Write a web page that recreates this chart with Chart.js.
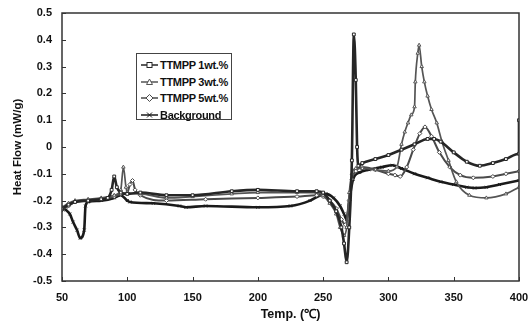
<!DOCTYPE html>
<html>
<head>
<meta charset="utf-8">
<script src="https://cdn.jsdelivr.net/npm/chart.js"></script>
<style>
  *{margin:0;padding:0;box-sizing:border-box}
  body{background:#fff;font-family:'Liberation Sans',Arial,sans-serif}
  .wrap{position:relative;width:530px;height:322px}
  .legend{position:absolute;left:136px;top:53px;width:96px;height:67px;border:1px solid #444;background:#fff;padding:3px 0 0 4px}
  .legend .row{display:flex;align-items:center;height:16.5px;font-size:11px;font-weight:bold;color:#111;white-space:nowrap;letter-spacing:-0.3px}
  .legend svg{margin-right:2px;flex:none}
</style>
</head>
<body>
<div class="wrap">
  <canvas id="c"></canvas>
  <div class="legend" id="legend"></div>
</div>
<script>
// TTMPP 1wt.% (melting dip + sharp spike, broad hump)
const temps1 = [50,55,60,70,80,85,88,90,92,95,100,110,130,150,180,200,230,245,250,255,260,264,266,268,270,272,273.5,275,276,277,280,290,300,310,320,330,335,340,350,360,370,380,390,400,400];
const flow1  = [-0.23,-0.215,-0.205,-0.2,-0.195,-0.19,-0.16,-0.11,-0.15,-0.17,-0.175,-0.17,-0.18,-0.18,-0.165,-0.16,-0.165,-0.165,-0.17,-0.2,-0.24,-0.3,-0.36,-0.43,-0.3,-0.05,0.42,0.25,0.0,-0.07,-0.06,-0.045,-0.03,-0.01,0.01,0.03,0.03,0.02,-0.02,-0.055,-0.07,-0.06,-0.045,-0.025,0.1];

// TTMPP 3wt.% (big peak near 323)
const temps2 = [50,55,60,70,80,90,95,97,99,100,110,130,150,180,200,230,245,250,255,260,263,266,268,270,272,275,280,290,300,306.5,310,312.5,315,317.5,320,320.6,322.5,323.5,325.5,327.5,330,333,337,341,346,352,362,375,390,400];
const flow2  = [-0.225,-0.21,-0.2,-0.195,-0.19,-0.18,-0.16,-0.075,-0.15,-0.17,-0.175,-0.19,-0.185,-0.175,-0.17,-0.17,-0.17,-0.18,-0.21,-0.25,-0.3,-0.33,-0.3,-0.17,-0.1,-0.08,-0.08,-0.085,-0.09,-0.074,0.01,0.056,0.09,0.12,0.15,0.243,0.35,0.38,0.3,0.243,0.19,0.14,0.09,0.02,-0.05,-0.13,-0.18,-0.19,-0.175,-0.15];

// TTMPP 5wt.% (small peak near 328)
const temps3 = [50,55,60,70,80,90,95,100,102,104,106,110,130,160,200,230,245,250,255,260,264,267,270,272,275,280,290,300,305,309,314,319,324,328,333,339,347,355,365,380,390,400];
const flow3  = [-0.235,-0.22,-0.205,-0.2,-0.195,-0.185,-0.175,-0.17,-0.14,-0.125,-0.16,-0.18,-0.2,-0.195,-0.19,-0.185,-0.18,-0.185,-0.2,-0.23,-0.27,-0.29,-0.2,-0.12,-0.09,-0.075,-0.085,-0.1,-0.105,-0.11,-0.075,-0.01,0.05,0.075,0.04,-0.02,-0.075,-0.105,-0.115,-0.11,-0.1,-0.09];

// Background
const temps4 = [50,53,56,58.5,61.5,64,67,68,70,80,90,95,100,102,120,140,145,160,200,225,240,248,252,258,263,266,268,270,273,278,285,295,303,310,320,330,340,350,360,366,375,385,400];
const flow4  = [-0.225,-0.235,-0.25,-0.28,-0.31,-0.34,-0.31,-0.22,-0.205,-0.2,-0.19,-0.18,-0.2,-0.205,-0.21,-0.22,-0.225,-0.22,-0.225,-0.22,-0.2,-0.18,-0.175,-0.19,-0.22,-0.25,-0.27,-0.2,-0.12,-0.095,-0.085,-0.075,-0.068,-0.08,-0.1,-0.115,-0.13,-0.14,-0.15,-0.153,-0.15,-0.14,-0.125];

const labels = ["TTMPP 1wt.%", "TTMPP 3wt.%", "TTMPP 5wt.%", "Background"];
const xTicks = [50,100,150,200,250,300,350,400];
const yTicks = [-0.5,-0.4,-0.3,-0.2,-0.1,0,0.1,0.2,0.3,0.4,0.5];

const pts = (t, v) => t.map((x, i) => ({ x, y: v[i] }));
const series = [
  { label: labels[0], data: pts(temps1, flow1), color: "#262626", width: 2.6, style: "rect" },
  { label: labels[1], data: pts(temps2, flow2), color: "#555", width: 1.7, style: "triangle" },
  { label: labels[2], data: pts(temps3, flow3), color: "#4a4a4a", width: 2, style: "rectRot" },
  { label: labels[3], data: pts(temps4, flow4), color: "#1a1a1a", width: 2.6, style: "crossRot" }
];

const frame = {
  id: "frame",
  afterDraw(chart) {
    const { ctx, chartArea: a, scales } = chart;
    ctx.save();
    ctx.strokeStyle = "#333";
    ctx.lineWidth = 1.5;
    ctx.strokeRect(a.left, a.top, a.right - a.left, a.bottom - a.top);
    ctx.lineWidth = 1;
    xTicks.forEach(t => {
      const px = Math.round(scales.x.getPixelForValue(t)) + 0.5;
      ctx.beginPath(); ctx.moveTo(px, a.bottom); ctx.lineTo(px, a.bottom - 4); ctx.stroke();
    });
    yTicks.forEach(t => {
      const py = Math.round(scales.y.getPixelForValue(t)) + 0.5;
      ctx.beginPath(); ctx.moveTo(a.left, py); ctx.lineTo(a.left + 4, py); ctx.stroke();
    });
    ctx.restore();
  }
};

const font = { family: "'Liberation Sans', Arial, sans-serif", weight: "bold", size: 11 };

new Chart(document.getElementById("c"), {
  type: "line",
  data: {
    datasets: series.map(s => ({
      label: s.label, data: s.data,
      borderColor: s.color, borderWidth: s.width,
      pointStyle: s.style, pointRadius: 2, pointBorderWidth: 1,
      pointBorderColor: s.color, pointBackgroundColor: "#fff",
      cubicInterpolationMode: "monotone", fill: false
    }))
  },
  options: {
    responsive: true, maintainAspectRatio: false, animation: false,
    layout: { padding: { top: 13, right: 11, left: 0, bottom: 0 } },
    plugins: { legend: { display: false }, tooltip: { enabled: false } },
    scales: {
      x: {
        type: "linear", min: 50, max: 400,
        afterBuildTicks: s => { s.ticks = xTicks.map(v => ({ value: v })); },
        afterFit: s => { s.height = 41; s.paddingLeft = 0; s.paddingRight = 0; },
        grid: { display: false, drawTicks: false }, border: { display: false },
        ticks: { color: "#111", font, padding: 10 },
        title: { display: true, text: "Temp. (℃)", color: "#111", font: { ...font, size: 12.5 }, padding: { top: 0, bottom: 0 } }
      },
      y: {
        min: -0.5, max: 0.5,
        afterBuildTicks: s => { s.ticks = yTicks.map(v => ({ value: v })); },
        afterFit: s => { s.width = 62; s.paddingTop = 0; s.paddingBottom = 0; },
        grid: { display: false, drawTicks: false }, border: { display: false },
        ticks: { color: "#111", font, padding: 10, callback: v => String(Math.round(v * 10) / 10) },
        title: { display: true, text: "Heat Flow (mW/g)", color: "#111", font: { ...font, size: 11.5 }, padding: { top: 11, bottom: 0 } }
      }
    }
  },
  plugins: [frame]
});

// legend built from the series list
const marker = (st, c) => {
  if (st === "rect") return `<rect x="6" y="2.5" width="5" height="5" fill="#fff" stroke="${c}"/>`;
  if (st === "triangle") return `<polygon points="8.5,2 11.5,7.5 5.5,7.5" fill="#fff" stroke="${c}"/>`;
  if (st === "rectRot") return `<polygon points="8.5,1.5 12,5 8.5,8.5 5,5" fill="#fff" stroke="${c}"/>`;
  return `<path d="M6,2.5 L11,7.5 M11,2.5 L6,7.5" stroke="${c}"/>`;
};
document.getElementById("legend").innerHTML = series.map(s =>
  `<div class="row"><svg width="17" height="10"><line x1="0" y1="5" x2="17" y2="5" stroke="${s.color}" stroke-width="1.5"/>${marker(s.style, s.color)}</svg>${s.label}</div>`
).join("");
</script>
</body>
</html>
